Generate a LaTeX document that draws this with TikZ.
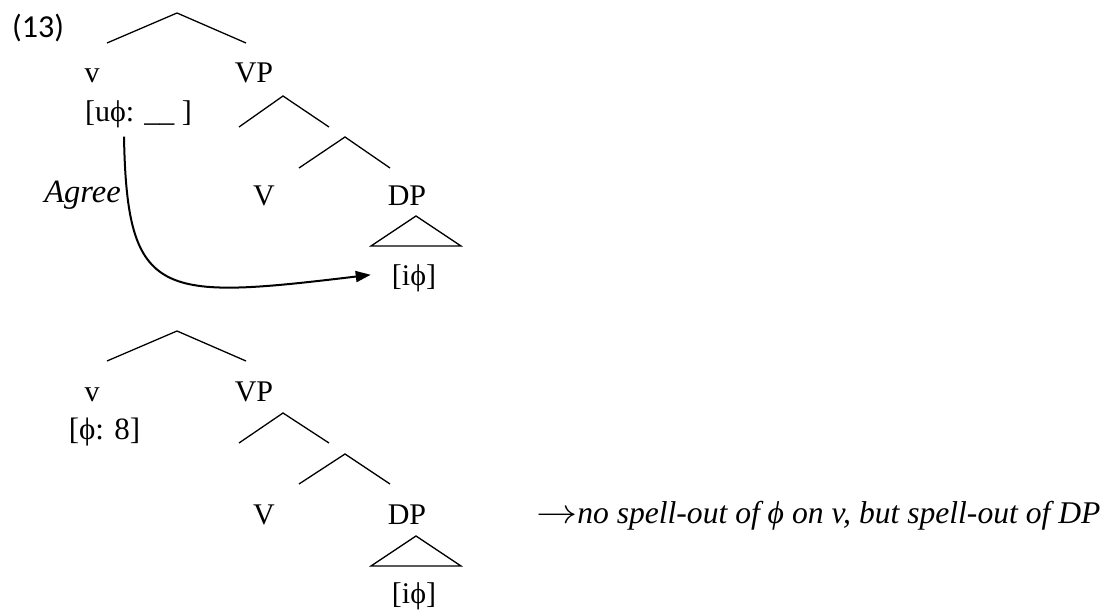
\documentclass[tikz,border=0pt]{standalone}
\usepackage{fontspec}
\usepackage{unicode-math}
\setmainfont{Liberation Serif}
\newfontfamily\exfont{Carlito}
\usetikzlibrary{positioning, arrows.meta}

\begin{document}
\begin{tikzpicture}[x=1pt, y=-1pt, every node/.style={font=\fontsize{30}{36}\selectfont, inner sep=0pt}]
  \tikzset{
    branch/.style={line width=1.3pt},
    lbl/.style={anchor=base},
    agree/.style={line width=2pt, -{Triangle[length=15pt,width=11pt]}},
    gloss/.style={anchor=base west, font=\fontsize{31.6}{38}\selectfont\itshape},
  }
  \useasboundingbox (0,0) rectangle (1115,612);
  \node[font=\exfont\fontsize{32}{38}\selectfont, anchor=base west] (exnum) at (12,38) {(13)};
  %% Tree 1: v probes DP before valuation
  \begin{scope}
    \coordinate (top1) at (177,13); \coordinate (topL1) at (107,43); \coordinate (topR1) at (246,43);
    \coordinate (vp1) at (283,96);  \coordinate (vpL1) at (239,127); \coordinate (vpR1) at (329,127);
    \coordinate (vb1) at (345,137); \coordinate (vbL1) at (299,168); \coordinate (vbR1) at (390,168);
    \coordinate (dp1) at (416,216); \coordinate (dpL1) at (371,246); \coordinate (dpR1) at (461,246);
    \draw[branch] (topL1) -- (top1) -- (topR1);
    \draw[branch] (vpL1) -- (vp1) -- (vpR1);
    \draw[branch] (vbL1) -- (vb1) -- (vbR1);
    \draw[branch] (dpL1) -- (dp1) -- (dpR1) -- cycle;
    \node[lbl] (lv1) at (92,83) {v};
    \node[lbl] (lVP1) at (254,83) {VP};
    \node[lbl] (uphi) at (138.5,122) {[uϕ: \_\_ ]};
    \node[lbl] (lV1) at (264,206) {V};
    \node[lbl] (lDP1) at (407,206) {DP};
    \node[lbl] (iphi1) at (414,285) {[iϕ]};
    \node[lbl, font=\fontsize{32.5}{38}\selectfont\itshape] (agreelbl) at (82.5,203) {Agree};
    \draw[agree] ([shift={(-14.5,8)}]uphi.south) .. controls (127,300) and (160,300) .. ([shift={(-21,-3)}]iphi1.west);
  \end{scope}
  %% Tree 2: valued v, only DP spelled out
  \begin{scope}[yshift=-318pt]
    \coordinate (top2) at (177,13); \coordinate (topL2) at (107,43); \coordinate (topR2) at (246,43);
    \coordinate (vp2) at (283,95);  \coordinate (vpL2) at (239,125); \coordinate (vpR2) at (329,125);
    \coordinate (vb2) at (345,136); \coordinate (vbL2) at (299,166); \coordinate (vbR2) at (390,166);
    \coordinate (dp2) at (416,218); \coordinate (dpL2) at (371,248); \coordinate (dpR2) at (461,248);
    \draw[branch] (topL2) -- (top2) -- (topR2);
    \draw[branch] (vpL2) -- (vp2) -- (vpR2);
    \draw[branch] (vbL2) -- (vb2) -- (vbR2);
    \draw[branch] (dpL2) -- (dp2) -- (dpR2) -- cycle;
    \node[lbl] (lv2) at (92,83) {v};
    \node[lbl] (lVP2) at (254,83) {VP};
    \node[lbl, font=\fontsize{31}{36}\selectfont] (valphi) at (104.5,121) {[ϕ: 8]};
    \node[lbl] (lV2) at (264,206) {V};
    \node[lbl] (lDP2) at (407,206) {DP};
    \node[lbl] (iphi2) at (414,285) {[iϕ]};
    \node[gloss] (result) at (536,205) {\scalebox{1.3}[1.1]{$\rightarrow$}no spell-out of ϕ on v, but spell-out of DP};
  \end{scope}
\end{tikzpicture}
\end{document}
